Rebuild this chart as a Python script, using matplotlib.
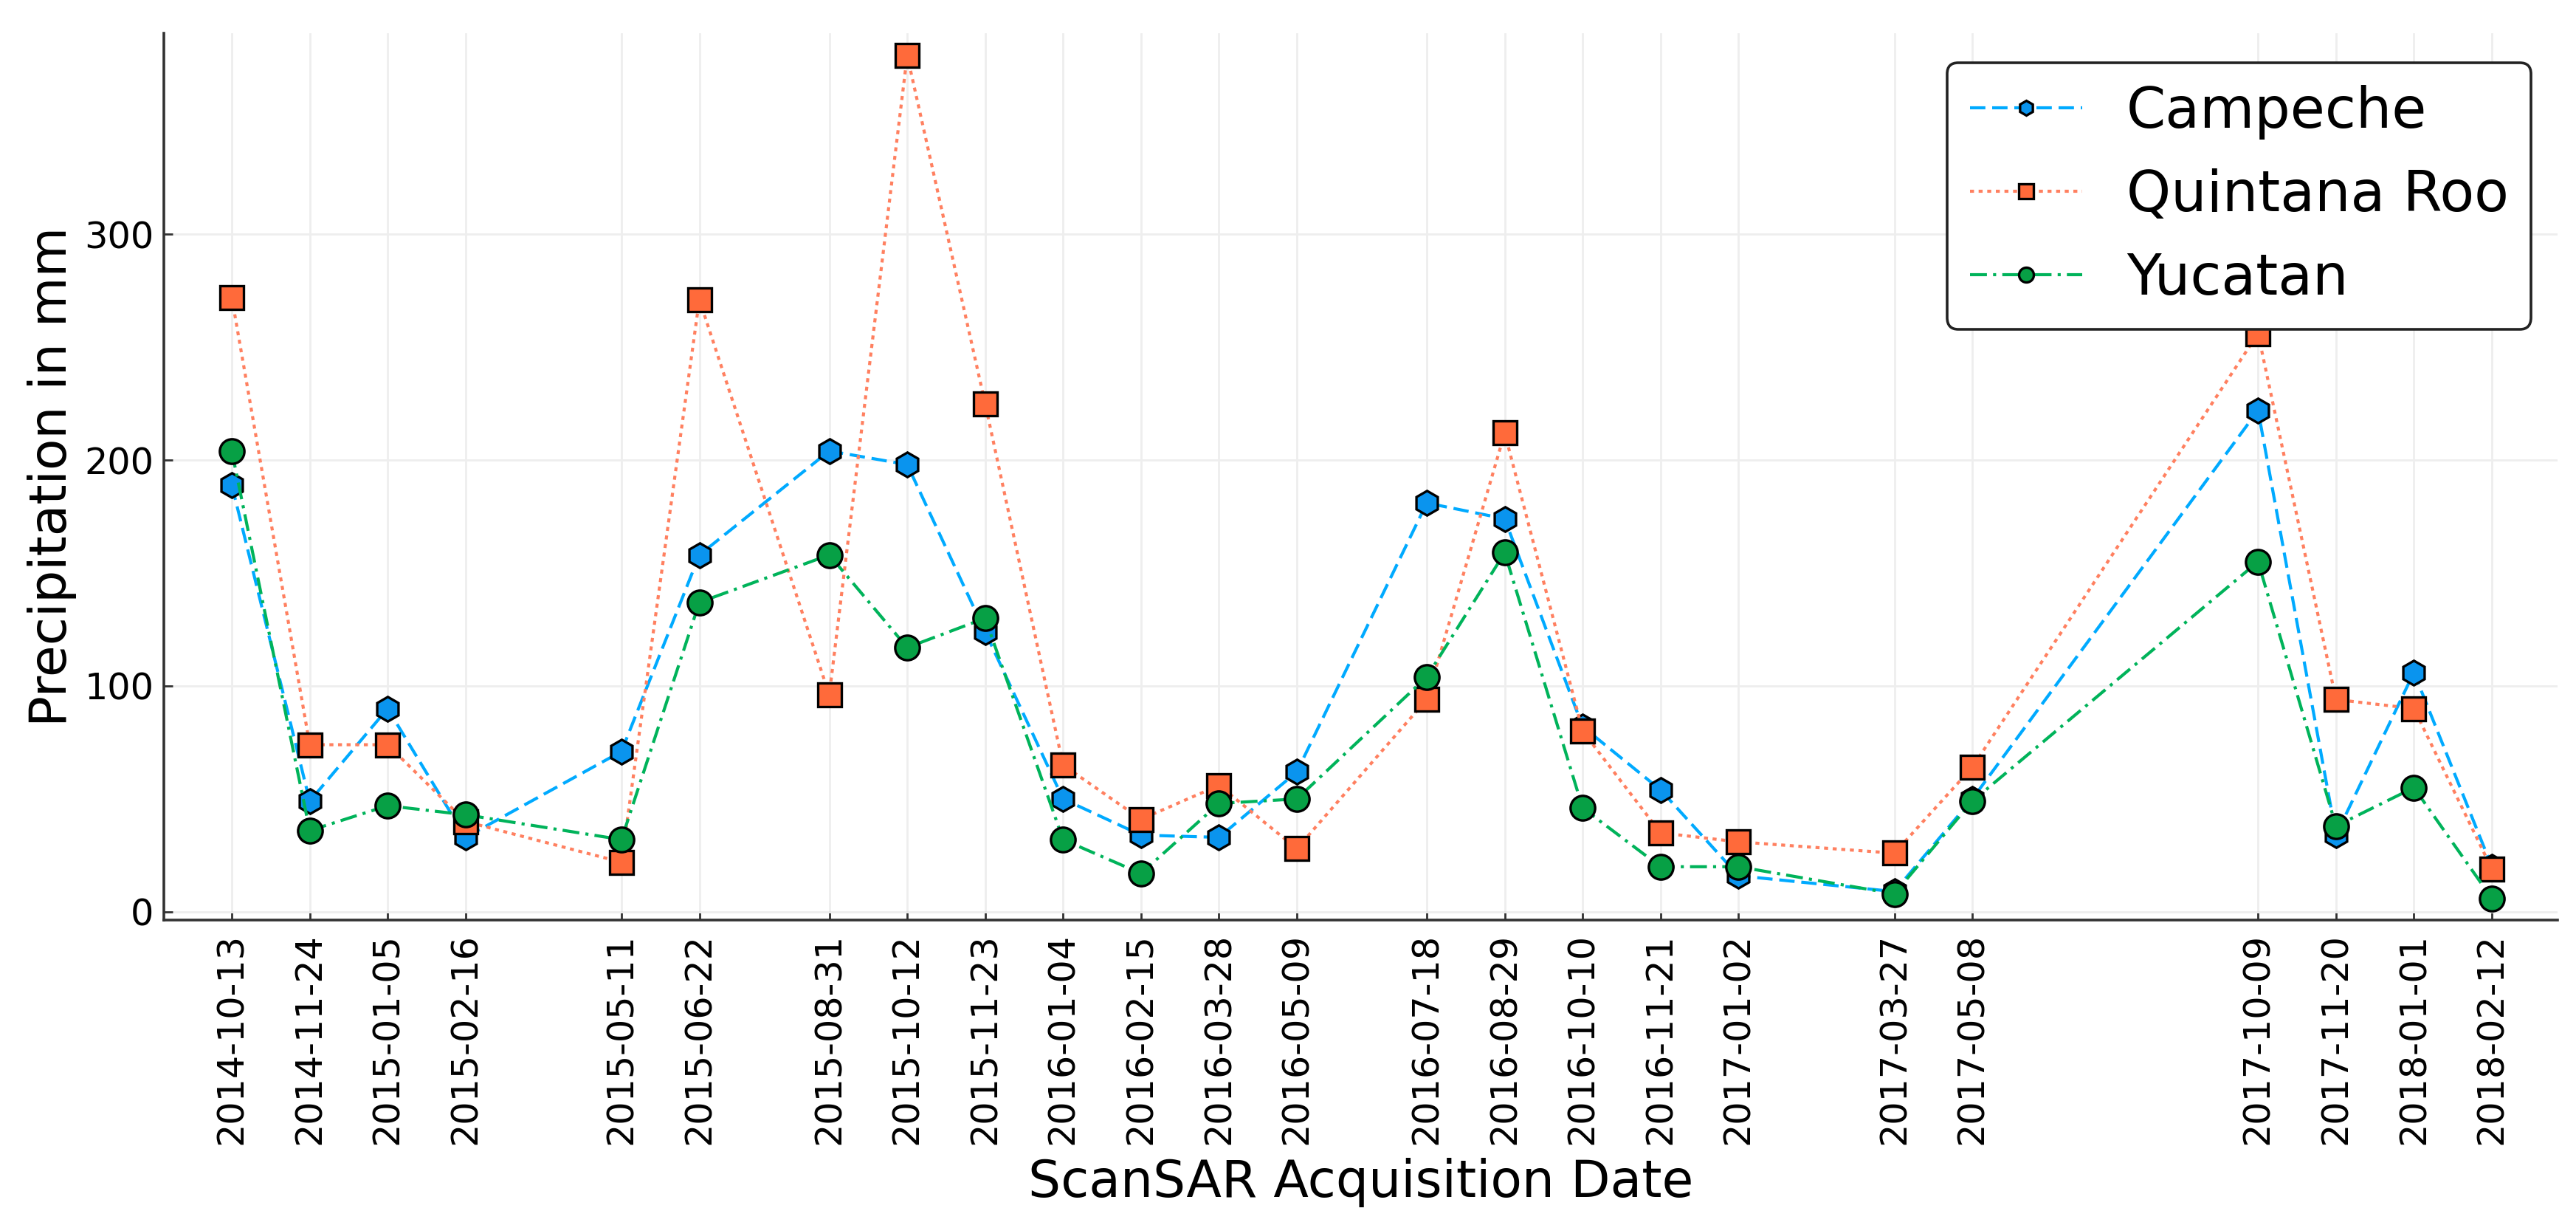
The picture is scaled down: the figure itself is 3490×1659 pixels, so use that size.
import pandas as pd
import matplotlib
matplotlib.use('Agg')
import matplotlib.pyplot as plt

dates = ['2014-10-13','2014-11-24','2015-01-05','2015-02-16','2015-05-11','2015-06-22',
         '2015-08-31','2015-10-12','2015-11-23','2016-01-04','2016-02-15','2016-03-28',
         '2016-05-09','2016-07-18','2016-08-29','2016-10-10','2016-11-21','2017-01-02',
         '2017-03-27','2017-05-08','2017-10-09','2017-11-20','2018-01-01','2018-02-12']

campeche = [189,49,90,33,71,158,204,198,124,50,34,33,62,181,174,82,54,16,9,50,222,34,106,20]
quintana_roo = [272,74,74,40,22,271,96,379,225,65,41,56,28,94,212,80,35,31,26,64,256,94,90,19]
yucatan = [204,36,47,43,32,137,158,117,130,32,17,48,50,104,159,46,20,20,8,49,155,38,55,6]

y_ticks = [0,100,200,300]

x = pd.to_datetime(dates)

fig = plt.figure(figsize=(34.91,16.59), dpi=100)
ax = fig.add_axes([222/3491, 1-1246/1659, 3243/3491, 1201/1659])

lw = 3
ms = 24
# line colour, marker colour
ax.plot(x, campeche, color='#00aaff', ls=(0,(5,2.2)), lw=lw, marker='h', ms=ms,
        mfc='#0a94ee', mec='black', mew=2.4, label='Campeche')
ax.plot(x, quintana_roo, color='#ff8060', ls=(0,(1.3,1.5)), lw=lw, marker='s', ms=ms-1,
        mfc='#ff6a3a', mec='black', mew=2.4, label='Quintana Roo')
ax.plot(x, yucatan, color='#00b35a', ls=(0,(5.5,2,1,2)), lw=lw, marker='o', ms=ms,
        mfc='#07a045', mec='black', mew=2.4, label='Yucatan')

ax.set_xlim(x[0]-pd.Timedelta(days=36.6), x[-1]+pd.Timedelta(days=35.4))
ax.set_ylim(-3.6, 388.9)

ax.set_xticks(x)
ax.set_xticklabels(dates, rotation=90)
ax.set_yticks(y_ticks)
ax.tick_params(axis='both', direction='in', length=8.5, width=2, color='#333333', labelsize=35.5)
ax.tick_params(axis='x', pad=13)
ax.tick_params(axis='y', pad=10)

ax.grid(True, color='#eeeeee', lw=2)
ax.set_axisbelow(True)

for s in ['top','right']:
    ax.spines[s].set_visible(False)
for s in ['left','bottom']:
    ax.spines[s].set_linewidth(2.6)
    ax.spines[s].set_color('#333333')

ax.set_xlabel('ScanSAR Acquisition Date', fontsize=50, labelpad=13)
ax.set_ylabel('Precipitation in mm', fontsize=50, labelpad=7)

leg = ax.legend(loc='upper right', bbox_to_anchor=(0.989,0.967), borderaxespad=0, fontsize=55,
                markerscale=0.6, handlelength=2.0, handletextpad=0.78, labelspacing=0.51,
                borderpad=0.4, framealpha=1, fancybox=True)
leg.get_frame().set_edgecolor('#222222')
leg.get_frame().set_linewidth(2.6)

fig.savefig('out.png', dpi=100)
